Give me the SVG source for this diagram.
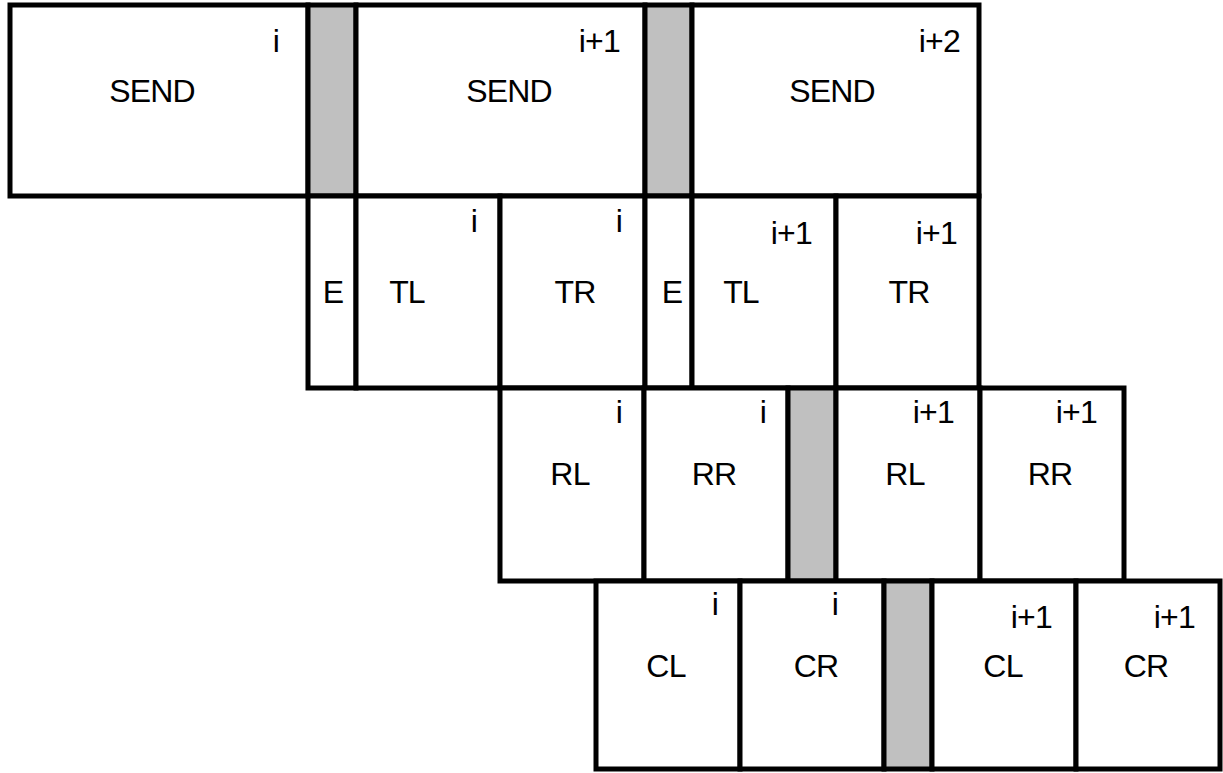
<svg xmlns="http://www.w3.org/2000/svg" width="1223" height="773" viewBox="0 0 1223 773">
<style>
rect{stroke:#000;stroke-width:5;fill:#fff}
rect.g{fill:#c0c0c0}
text{font-family:"Liberation Sans",Arial,sans-serif;font-size:32px;letter-spacing:-0.8px;fill:#000}
.c{text-anchor:middle}
.r{text-anchor:end}
</style>
<rect x="0" y="0" width="1223" height="773" style="stroke:none;fill:#fff"/>
<g id="row1">
<g id="send-i"><rect x="10" y="5" width="298" height="191"/><text class="c" x="152" y="102">SEND</text><text class="r" x="279" y="52">i</text></g>
<g id="gap1a"><rect class="g" x="308" y="5" width="48" height="191"/></g>
<g id="send-i1"><rect x="356" y="5" width="289" height="191"/><text class="c" x="509" y="102">SEND</text><text class="r" x="620" y="52">i+1</text></g>
<g id="gap1b"><rect class="g" x="645" y="5" width="47" height="191"/></g>
<g id="send-i2"><rect x="692" y="5" width="287" height="191"/><text class="c" x="832" y="102">SEND</text><text class="r" x="960" y="52">i+2</text></g>
</g>
<g id="row2">
<g id="e1"><rect x="308" y="196" width="48" height="192"/><text class="c" x="333" y="303">E</text></g>
<g id="tl-i"><rect x="356" y="196" width="144" height="192"/><text class="c" x="407" y="303">TL</text><text class="r" x="477" y="232">i</text></g>
<g id="tr-i"><rect x="500" y="196" width="145" height="192"/><text class="c" x="575" y="303">TR</text><text class="r" x="622" y="232">i</text></g>
<g id="e2"><rect x="645" y="196" width="47" height="192"/><text class="c" x="672" y="303">E</text></g>
<g id="tl-i1"><rect x="692" y="196" width="144" height="192"/><text class="c" x="741" y="303">TL</text><text class="r" x="812" y="244">i+1</text></g>
<g id="tr-i1"><rect x="836" y="196" width="143" height="192"/><text class="c" x="909" y="303">TR</text><text class="r" x="957" y="244">i+1</text></g>
</g>
<g id="row3">
<g id="rl-i"><rect x="500" y="388" width="144" height="193"/><text class="c" x="570" y="485">RL</text><text class="r" x="622" y="423">i</text></g>
<g id="rr-i"><rect x="644" y="388" width="144" height="193"/><text class="c" x="714" y="485">RR</text><text class="r" x="766" y="423">i</text></g>
<g id="gap3"><rect class="g" x="788" y="388" width="48" height="193"/></g>
<g id="rl-i1"><rect x="836" y="388" width="144" height="193"/><text class="c" x="905" y="485">RL</text><text class="r" x="954" y="423">i+1</text></g>
<g id="rr-i1"><rect x="980" y="388" width="144" height="193"/><text class="c" x="1050" y="485">RR</text><text class="r" x="1097" y="423">i+1</text></g>
</g>
<g id="row4">
<g id="cl-i"><rect x="596" y="581" width="144" height="188"/><text class="c" x="666" y="677">CL</text><text class="r" x="718" y="615">i</text></g>
<g id="cr-i"><rect x="740" y="581" width="144" height="188"/><text class="c" x="816" y="677">CR</text><text class="r" x="838" y="615">i</text></g>
<g id="gap4"><rect class="g" x="884" y="581" width="48" height="188"/></g>
<g id="cl-i1"><rect x="932" y="581" width="144" height="188"/><text class="c" x="1003" y="677">CL</text><text class="r" x="1052" y="628">i+1</text></g>
<g id="cr-i1"><rect x="1076" y="581" width="144" height="188"/><text class="c" x="1146" y="677">CR</text><text class="r" x="1195" y="628">i+1</text></g>
</g>
<g id="connectors"></g>
</svg>
